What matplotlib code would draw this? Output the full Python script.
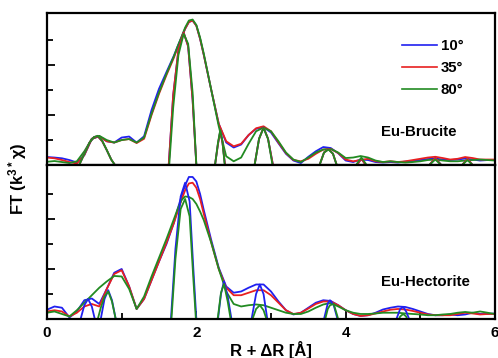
import matplotlib.pyplot as plt
from matplotlib.ticker import FixedLocator

plt.rcParams["font.family"] = ["Liberation Sans", "DejaVu Sans"]
plt.rcParams["font.weight"] = "bold"
plt.rcParams["mathtext.fontset"] = "custom"
plt.rcParams["mathtext.bf"] = "Liberation Sans:bold"
plt.rcParams["mathtext.rm"] = "Liberation Sans:bold"
plt.rcParams["mathtext.default"] = "bf"

# shared R grid (Angstrom) for the |FT| curves
r = [0.0, 0.1, 0.2, 0.3, 0.4, 0.5, 0.6, 0.7, 0.8, 0.9, 1.0, 1.1, 1.2, 1.3, 1.4,
     1.5, 1.6, 1.7, 1.75, 1.8, 1.85, 1.9, 1.95, 2.0, 2.05, 2.1, 2.2, 2.3, 2.4,
     2.5, 2.6, 2.7, 2.8, 2.9, 3.0, 3.1, 3.2, 3.3, 3.4, 3.5, 3.6, 3.7, 3.8, 3.9,
     4.0, 4.1, 4.2, 4.3, 4.4, 4.5, 4.6, 4.7, 4.8, 4.9, 5.0, 5.1, 5.2, 5.3, 5.4,
     5.5, 5.6, 5.7, 5.8, 5.9, 6.0]

angles = ["10°", "35°", "80°"]
colors = ["#2020f0", "#e82020", "#228b22"]

# Eu-Brucite magnitudes
bru_10 = [0.32, 0.30, 0.27, 0.20, 0.10, 0.40, 1.05, 1.15, 0.95, 0.90, 1.10, 1.14,
          0.90, 1.15, 2.20, 3.05, 3.72, 4.38, 4.75, 5.10, 5.45, 5.72, 5.78, 5.58,
          5.05, 4.40, 3.00, 1.65, 0.90, 0.70, 0.82, 1.20, 1.45, 1.52, 1.30, 0.87,
          0.45, 0.18, 0.08, 0.33, 0.55, 0.72, 0.68, 0.47, 0.18, 0.12, 0.22, 0.20,
          0.12, 0.10, 0.12, 0.10, 0.14, 0.16, 0.20, 0.24, 0.26, 0.22, 0.20, 0.22,
          0.26, 0.22, 0.18, 0.20, 0.20]
bru_35 = [0.30, 0.27, 0.20, 0.12, 0.06, 0.40, 1.05, 1.15, 0.95, 0.90, 1.00, 1.04,
          0.88, 1.05, 2.00, 2.85, 3.60, 4.30, 4.70, 5.08, 5.45, 5.72, 5.78, 5.57,
          5.05, 4.40, 3.00, 1.65, 0.95, 0.75, 0.85, 1.20, 1.47, 1.55, 1.35, 0.90,
          0.48, 0.20, 0.15, 0.25, 0.45, 0.62, 0.65, 0.48, 0.22, 0.15, 0.20, 0.25,
          0.15, 0.12, 0.15, 0.12, 0.15, 0.20, 0.25, 0.30, 0.33, 0.28, 0.22, 0.25,
          0.32, 0.28, 0.22, 0.22, 0.22]
bru_80 = [0.13, 0.16, 0.12, 0.08, 0.15, 0.55, 1.05, 1.17, 1.00, 0.90, 1.00, 1.04,
          0.90, 1.10, 2.05, 2.90, 3.65, 4.35, 4.75, 5.12, 5.50, 5.78, 5.82, 5.60,
          5.10, 4.45, 3.00, 1.55, 0.35, 0.15, 0.30, 0.85, 1.35, 1.50, 1.35, 0.95,
          0.50, 0.22, 0.12, 0.30, 0.50, 0.62, 0.64, 0.50, 0.28, 0.30, 0.36, 0.30,
          0.18, 0.12, 0.15, 0.12, 0.10, 0.12, 0.15, 0.20, 0.22, 0.18, 0.15, 0.15,
          0.18, 0.20, 0.22, 0.20, 0.18]

# Eu-Hectorite magnitudes
hec_10 = [0.37, 0.50, 0.45, 0.06, 0.30, 0.75, 0.82, 0.60, 1.20, 1.85, 2.00, 1.30,
          0.40, 0.80, 1.55, 2.30, 3.00, 3.85, 4.40, 4.90, 5.35, 5.68, 5.68, 5.50,
          5.00, 4.35, 3.15, 2.05, 1.30, 1.05, 1.10, 1.25, 1.38, 1.38, 1.10, 0.70,
          0.35, 0.18, 0.25, 0.45, 0.65, 0.75, 0.72, 0.55, 0.35, 0.20, 0.12, 0.15,
          0.25, 0.38, 0.45, 0.50, 0.48, 0.40, 0.30, 0.20, 0.15, 0.15, 0.18, 0.15,
          0.18, 0.25, 0.20, 0.20, 0.22]
hec_35 = [0.30, 0.35, 0.30, 0.10, 0.25, 0.50, 0.60, 0.50, 1.20, 1.80, 1.95, 1.30,
          0.40, 0.80, 1.55, 2.30, 3.05, 3.85, 4.30, 4.75, 5.15, 5.42, 5.45, 5.25,
          4.80, 4.20, 3.05, 2.00, 1.25, 0.95, 0.95, 1.05, 1.15, 1.15, 0.95, 0.65,
          0.35, 0.20, 0.25, 0.42, 0.60, 0.70, 0.70, 0.55, 0.35, 0.20, 0.12, 0.15,
          0.22, 0.30, 0.37, 0.40, 0.38, 0.32, 0.25, 0.18, 0.15, 0.15, 0.15, 0.20,
          0.25, 0.22, 0.18, 0.20, 0.20]
hec_80 = [0.25, 0.30, 0.20, 0.10, 0.35, 0.65, 0.95, 1.25, 1.50, 1.72, 1.70, 1.20,
          0.40, 0.90, 1.70, 2.45, 3.20, 4.00, 4.40, 4.75, 4.90, 4.88, 4.80, 4.60,
          4.30, 3.95, 3.05, 2.00, 1.10, 0.60, 0.50, 0.55, 0.58, 0.55, 0.45, 0.35,
          0.25, 0.20, 0.20, 0.30, 0.45, 0.58, 0.64, 0.50, 0.35, 0.25, 0.20, 0.20,
          0.22, 0.25, 0.25, 0.25, 0.22, 0.20, 0.18, 0.15, 0.15, 0.18, 0.20, 0.25,
          0.28, 0.25, 0.30, 0.25, 0.20]

# imaginary parts (only the positive lobes show above the baseline)
bru_im_r = [0.38, 0.43, 0.50, 0.57, 0.63, 0.68, 0.74, 0.80, 0.86, 0.91, 0.96,
            1.58, 1.63, 1.69, 1.76, 1.83, 1.89, 1.95, 2.00, 2.04,
            2.20, 2.25, 2.29, 2.32, 2.35, 2.38, 2.42,
            2.72, 2.78, 2.84, 2.90, 2.96, 3.02, 3.06,
            3.60, 3.65, 3.71, 3.77, 3.83, 3.88, 3.92,
            4.10, 4.15, 4.21, 4.27, 4.31,
            5.05, 5.12, 5.20, 5.28, 5.32,
            5.50, 5.56, 5.63, 5.70, 5.75]
bru_im_35 = [-0.5, 0.0, 0.45, 0.90, 1.12, 1.15, 0.95, 0.60, 0.22, 0.0, -0.5,
             -0.8, 0.0, 2.80, 4.60, 5.30, 4.75, 2.60, 0.0, -0.8,
             -0.6, 0.0, 0.85, 1.35, 0.90, 0.10, -0.5,
             -0.5, 0.0, 1.05, 1.50, 1.05, 0.10, -0.5,
             -0.4, 0.0, 0.50, 0.64, 0.45, 0.0, -0.4,
             -0.3, 0.0, 0.25, 0.0, -0.3,
             -0.3, 0.0, 0.28, 0.0, -0.3,
             -0.3, 0.0, 0.25, 0.0, -0.3]
bru_im_80 = [-0.5, 0.0, 0.45, 0.90, 1.12, 1.17, 0.97, 0.60, 0.22, 0.0, -0.5,
             -0.8, -0.3, 2.30, 4.40, 5.25, 4.85, 2.90, 0.0, -0.8,
             -0.6, 0.0, 0.90, 1.40, 0.95, 0.0, -0.5,
             -0.5, 0.0, 1.05, 1.48, 1.05, 0.0, -0.5,
             -0.4, 0.0, 0.50, 0.62, 0.45, 0.0, -0.4,
             -0.3, 0.05, 0.30, 0.05, -0.3,
             -0.3, 0.0, 0.22, 0.0, -0.3,
             -0.3, 0.0, 0.20, 0.0, -0.3]

hec_im_r = [0.40, 0.45, 0.50, 0.55, 0.60, 0.64, 0.68, 0.72, 0.77, 0.82, 0.87, 0.92, 0.96,
            1.60, 1.66, 1.72, 1.79, 1.85, 1.91, 1.96, 2.00, 2.04,
            2.25, 2.29, 2.33, 2.37, 2.42, 2.47, 2.51,
            2.70, 2.74, 2.80, 2.85, 2.90, 2.95, 2.99,
            3.66, 3.71, 3.76, 3.79, 3.84, 3.89, 3.93,
            4.63, 4.68, 4.73, 4.77, 4.81, 4.85, 4.89]
hec_im_10 = [-0.4, 0.0, 0.55, 0.80, 0.50, 0.0, -0.4, 0.0, 0.80, 1.15, 0.75, 0.0, -0.6,
             -0.8, 0.0, 2.80, 4.90, 5.45, 4.70, 2.00, 0.0, -0.8,
             -0.5, 0.0, 1.00, 1.50, 0.90, 0.0, -0.5,
             -0.5, 0.0, 1.00, 1.38, 1.00, 0.0, -0.5,
             -0.4, 0.0, 0.62, 0.75, 0.55, 0.0, -0.4,
             -0.4, 0.0, 0.40, 0.48, 0.30, 0.0, -0.4]
hec_im_80 = [-0.6, -0.4, -0.3, -0.2, -0.4, -0.3, 0.0, 0.45, 0.90, 1.10, 0.70, 0.0, -0.5,
             -0.8, -0.3, 2.40, 4.40, 4.80, 4.10, 1.60, -0.3, -0.8,
             -0.5, 0.10, 1.05, 1.40, 0.70, -0.2, -0.5,
             -0.5, -0.1, 0.40, 0.55, 0.35, -0.1, -0.5,
             -0.4, -0.2, 0.40, 0.55, 0.60, 0.10, -0.4,
             -0.4, -0.2, 0.10, 0.20, 0.10, -0.2, -0.4]

fig = plt.figure(figsize=(4.98, 3.58), dpi=100)
ax_top = fig.add_axes([0.0944, 0.539, 0.8996, 0.4246])
ax_bot = fig.add_axes([0.0944, 0.109, 0.8996, 0.4302])

lw = 1.3
for ax, mags in [(ax_top, [bru_10, bru_35, bru_80]), (ax_bot, [hec_10, hec_35, hec_80])]:
    for y, c, lab in zip(mags, colors, angles):
        ax.plot(r, y, color=c, lw=lw, label=lab)

ax_top.plot(bru_im_r, bru_im_35, color=colors[0], lw=lw)
ax_top.plot(bru_im_r, bru_im_35, color=colors[1], lw=lw)
ax_top.plot(bru_im_r, bru_im_80, color=colors[2], lw=lw)
ax_bot.plot(hec_im_r, hec_im_10, color=colors[0], lw=lw)
ax_bot.plot(hec_im_r, hec_im_80, color=colors[2], lw=lw)

ax_top.set_ylim(0, 6.08)
ax_bot.set_ylim(0, 6.16)
for ax in (ax_top, ax_bot):
    ax.set_xlim(0, 6)
    for s in ax.spines.values():
        s.set_linewidth(1.6)
    ax.xaxis.set_major_locator(FixedLocator([0, 2, 4, 6]))
    ax.xaxis.set_minor_locator(FixedLocator([1, 3, 5]))
    ax.yaxis.set_major_locator(FixedLocator([2, 4]))
    ax.yaxis.set_minor_locator(FixedLocator([1, 3, 5]))
    ax.tick_params(axis="y", which="major", direction="in", length=6, width=1.3, labelleft=False)
    ax.tick_params(axis="y", which="minor", direction="in", length=4, width=1.3)
    ax.tick_params(axis="x", which="major", length=6, width=1.3)
    ax.tick_params(axis="x", which="minor", length=4, width=1.3)

ax_top.tick_params(axis="x", which="both", direction="out", labelbottom=False)
ax_bot.tick_params(axis="x", which="both", direction="in", pad=5, labelsize=11)

leg = ax_top.legend(loc="upper left", bbox_to_anchor=(0.78, 0.87), borderaxespad=0,
                    frameon=False, handlelength=2.3, handletextpad=0.25,
                    labelspacing=0.55, prop={"weight": "bold", "size": 10.8})
for h in leg.get_lines():
    h.set_linewidth(1.2)

ax_top.text(0.83, 0.22, "Eu-Brucite", transform=ax_top.transAxes,
            ha="center", va="center", fontsize=10.8, fontweight="bold")
ax_bot.text(0.845, 0.24, "Eu-Hectorite", transform=ax_bot.transAxes,
            ha="center", va="center", fontsize=10.8, fontweight="bold")

fig.text(0.544, 0.022, "R + ΔR [Å]", ha="center", va="center", fontsize=12, fontweight="bold")
fig.text(0.036, 0.5, r"FT (k$^{3*}$χ)", ha="center", va="center", rotation=90,
         fontsize=12, fontweight="bold")

fig.savefig("out.png", dpi=100)
